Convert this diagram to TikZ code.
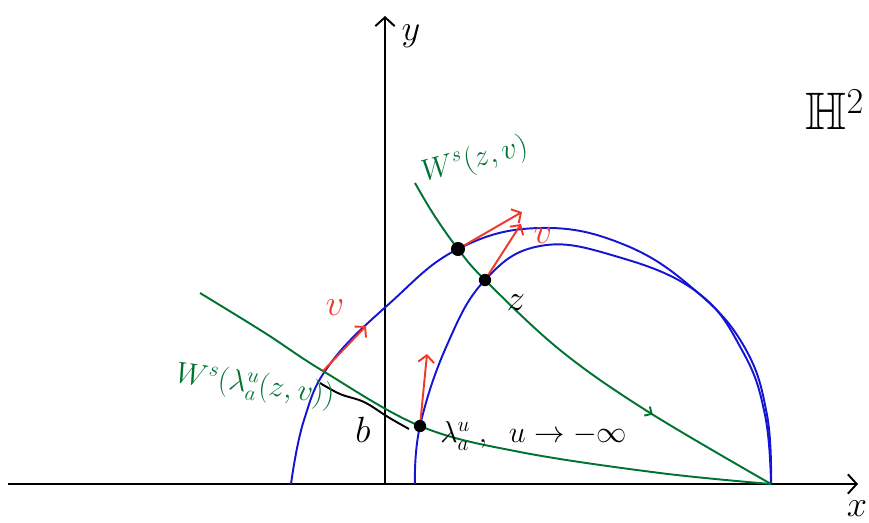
\documentclass[tikz,border=0pt]{standalone}
\usepackage{amssymb}
\usetikzlibrary{arrows.meta, decorations.markings}
\definecolor{geoblue}{RGB}{20,20,210}
\definecolor{horogreen}{RGB}{0,115,50}
\definecolor{vecred}{RGB}{240,55,40}

\begin{document}
\begin{tikzpicture}[x=0.02cm, y=-0.02cm,
    every node/.style={inner sep=0pt},
    axis/.style={line width=1.1pt, -{Straight Barb[length=5pt,width=11pt]}},
    geodesic/.style={draw=geoblue, line width=1.1pt},
    horocycle/.style={draw=horogreen, line width=1.1pt},
    flowmark/.style={postaction={decorate, decoration={markings,
        mark=at position 0.71 with {\arrow{Straight Barb[length=3pt,width=6pt]}}}}},
    tangent/.style={draw=vecred, line width=1.1pt, -{Straight Barb[length=4pt,width=9pt]}},
    pt/.style={circle, fill=black, minimum size=7pt},
    lbl/.style={font=\huge}
]
\useasboundingbox (0,0) rectangle (869,522);

\coordinate (xl) at (8,484);
\coordinate (xr) at (858,484);
\coordinate (yb) at (385,484);
\coordinate (yt) at (385,16);
\draw[axis] (xl) -- (xr);
\draw[axis] (yb) -- (yt);
\node[lbl] (ylab) at (411,36) {$y$};
\node[lbl] (xlab) at (857,509) {$x$};
\node[font=\fontsize{30}{32}\selectfont] (hyp) at (835,110) {$\mathbb{H}^2$};

\coordinate (p) at (458,249);
\coordinate (z) at (485,280);
\coordinate (q) at (420,426);
\coordinate (r) at (323,371);
\coordinate (e) at (771,484);
\coordinate (pv) at (522,212);
\coordinate (zv) at (521,224);
\coordinate (rv) at (366,326);
\coordinate (qv) at (427,354);
\coordinate (bend) at (409,429);

\draw[geodesic] plot[smooth, tension=0.7] coordinates {(291,484) (304,420) (330,364) (390,303) (p) (540,228) (625,245) (697,292) (745,348) (767,415) (e)};
\draw[geodesic] plot[smooth, tension=0.7] coordinates {(415,484) (q) (447,345) (z) (540,246) (615,256) (697,292) (743,352) (765,415) (e)};

\draw[horocycle, flowmark] plot[smooth, tension=0.6] coordinates {(415,183) (434,215) (p) (z) (560,350) (647,411) (e)};
\draw[horocycle] plot[smooth, tension=0.6] coordinates {(200,293) (265,333) (r) (q) (520,452) (660,473) (e)};

\draw[line width=1.1pt] plot[smooth, tension=0.6] coordinates {(320,383) (340,394) (364,402) (388,417) (bend)};

\draw[tangent] (p) -- (pv);
\draw[tangent] (z) -- (zv);
\draw[tangent] (r) -- (rv);
\draw[tangent] (q) -- (qv);

\node[pt, minimum size=8pt] (pdot) at (p) {};
\node[pt] (zdot) at (z) {};
\node[pt] (qdot) at (q) {};

\node[lbl, vecred] (vl) at (335,308) {$v$};
\node[lbl, vecred] (vr) at (543,236) {$v$};
\node[lbl] (zlab) at (516,303) {$z$};
\node[lbl] (blab) at (363,430) {$b$};
\node[font=\LARGE, horogreen, rotate=15] (wz) at (475,160) {$W^s(z,v)$};
\node[font=\LARGE, horogreen, rotate=-8] (wl) at (255,386) {$W^s(\lambda^u_a(z,v))$};
\node[font=\LARGE, anchor=west] (lam) at (440,436) {$\lambda^u_a\;,\;\; u\to-\infty$};
\end{tikzpicture}
\end{document}
